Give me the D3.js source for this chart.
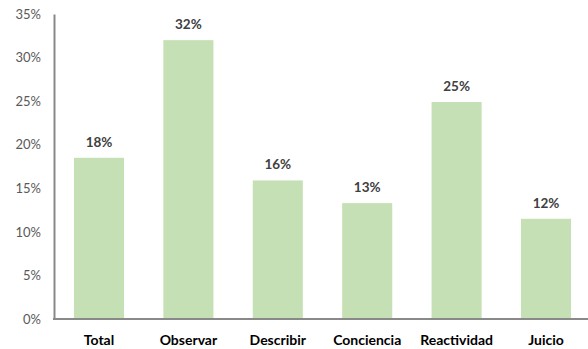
<!DOCTYPE html>
<html><head><meta charset="utf-8">
<script src="https://cdn.jsdelivr.net/npm/d3@7"></script>
<style>body{margin:0;background:#fff}svg{display:block}</style>
</head><body>
<svg id="c" width="588" height="349"></svg>
<script>
const categories = ["Total","Observar","Describir","Conciencia","Reactividad","Juicio"];
const values = [18.5, 32.0, 15.9, 13.3, 24.9, 11.5];
const valueLabels = ["18%","32%","16%","13%","25%","12%"];
const yTicks = [0,5,10,15,20,25,30,35];

const svg = d3.select("#c");
const x = d3.scaleBand().domain(categories).range([54.3, 590.7]).paddingInner(0.44).paddingOuter(0.22);
const y = d3.scaleLinear().domain([0,35]).range([319,14]);
const font = "Lato, 'Open Sans', sans-serif";

svg.selectAll("rect.bar").data(values).enter().append("rect")
  .attr("x",(d,i)=>x(categories[i])).attr("width",x.bandwidth())
  .attr("y",d=>y(d)).attr("height",d=>y(0)-y(d)).attr("fill","#c5e0b4");

svg.selectAll("text.vl").data(values).enter().append("text")
  .attr("x",(d,i)=>x(categories[i])+x.bandwidth()/2).attr("y",d=>y(d)-11)
  .attr("text-anchor","middle").attr("font-family",font).attr("font-weight","bold")
  .attr("font-size","13.5px").attr("fill","#404040").text((d,i)=>valueLabels[i]);

const ya = svg.append("g").attr("transform","translate(54,0)")
  .call(d3.axisLeft(y).tickValues(yTicks).tickFormat(d=>d+"%").tickSize(0).tickPadding(13));
ya.select(".domain").attr("stroke","#898989").attr("stroke-width",2);
ya.selectAll("text").attr("font-family",font).attr("font-size","13px").attr("fill","#595959");

const xa = svg.append("g").attr("transform","translate(0,319)")
  .call(d3.axisBottom(x).tickSize(0).tickPadding(16));
xa.select(".domain").attr("d","M53,0H588").attr("stroke","#898989").attr("stroke-width",2);
xa.selectAll("text").attr("font-family",font).attr("font-weight","bold").attr("font-size","14px").attr("fill","#000");
</script>
</body></html>
